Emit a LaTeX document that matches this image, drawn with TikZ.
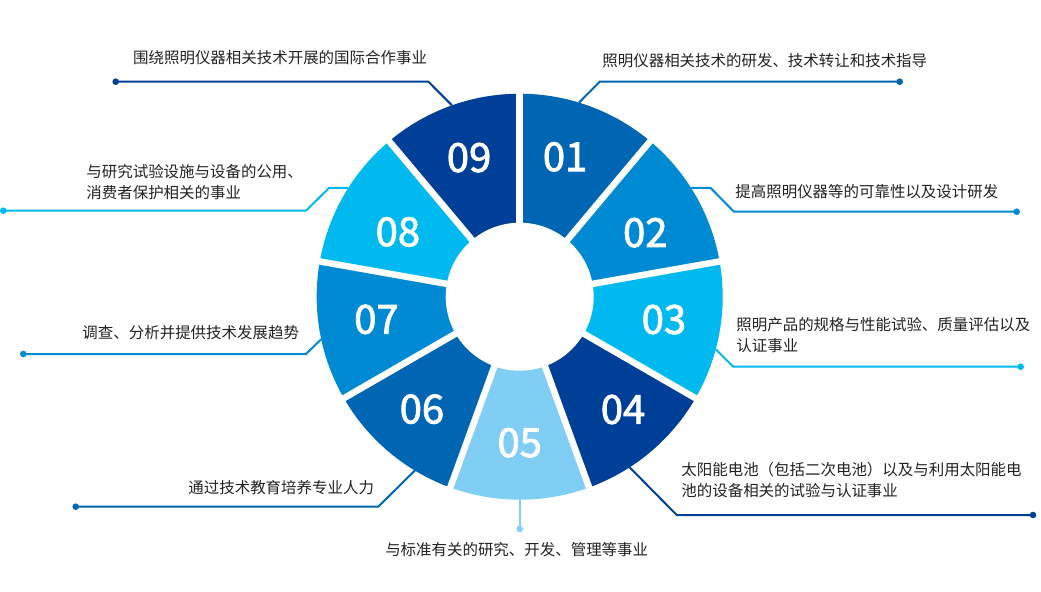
\documentclass[tikz,border=0pt]{standalone}
\usepackage{fontspec}
\setmainfont{Noto Sans CJK SC}
\newfontfamily\numfont[FakeBold=2]{Noto Sans CJK SC}
\definecolor{segA}{HTML}{0066B3}
\definecolor{segB}{HTML}{008AD4}
\definecolor{segC}{HTML}{00B9EE}
\definecolor{segD}{HTML}{003F97}
\definecolor{segE}{HTML}{80CEF3}
\definecolor{txtgray}{HTML}{222222}

\begin{document}
\begin{tikzpicture}[every node/.style={font=\fontsize{4.4}{6}\selectfont, text=txtgray, inner sep=0pt},
	num/.style={font=\numfont\fontsize{11.4}{12}\selectfont, text=white},
	lead/.style={line width=0.57pt},
	dot/.style={circle, minimum size=0.066cm}]
	\useasboundingbox (-5.197,-2.943) rectangle (5.213,2.967);
	\foreach \k/\col in {1/segA, 2/segB, 3/segC, 4/segD, 5/segE, 6/segA, 7/segB, 8/segC, 9/segD}
		\fill[\col] (0,0) -- ({90-40*\k}:2.03) arc[start angle={90-40*\k}, end angle={130-40*\k}, radius=2.03] -- cycle;
	\foreach \a in {10,50,...,330}
		\draw[white, line width=1.85pt] (0,0) -- (\a:2.1);
	\fill[white] (0,0) circle (0.74);
	\foreach \k/\a/\r in {1/72/1.47, 2/27/1.41, 3/-9/1.46, 4/-47.5/1.53, 5/-90/1.46, 6/229/1.49, 7/189/1.45, 8/152/1.38, 9/110/1.48}
		\node[num] (n\k) at (\a:\r) {0\k};

	\coordinate (e1) at (73:2.03);
	\node[dot, fill=segA] (d1) at (3.80,2.15) {};
	\draw[lead, segA] (e1) -- (0.80,2.15) -- (d1.center);
	\node[anchor=west] (t1) at (0.82,2.36) {照明仪器相关技术的研发、技术转让和技术指导};

	\coordinate (e2) at (32.4:2.03);
	\node[dot, fill=segB] (d2) at (4.97,0.85) {};
	\draw[lead, segB] (e2) -- (1.91,1.087) -- (2.143,0.85) -- (d2.center);
	\node[anchor=west] (t2) at (2.15,1.05) {提高照明仪器等的可靠性以及设计研发};

	\coordinate (e3) at (-15:2.03);
	\node[dot, fill=segC] (d3) at (5.01,-0.70) {};
	\draw[lead, segC] (e3) -- (2.136,-0.70) -- (d3.center);
	\node[anchor=west, align=left] (t3) at (2.16,-0.38) {照明产品的规格与性能试验、质量评估以及\\认证事业};

	\coordinate (e4) at (-57.2:2.03);
	\node[dot, fill=segD] (d4) at (5.133,-2.183) {};
	\draw[lead, segD] (e4) -- (1.57,-2.183) -- (d4.center);
	\node[anchor=west, align=left] (t4) at (1.61,-1.83) {太阳能电池（包括二次电池）以及与利用太阳能电\\池的设备相关的试验与认证事业};

	\coordinate (e5) at (-90:2.03);
	\node[dot, fill=segE] (d5) at (0,-2.323) {};
	\draw[lead, segE] (e5) -- (d5.center);
	\node (t5) at (-0.03,-2.53) {与标准有关的研究、开发、管理等事业};

	\coordinate (e6) at (238.9:2.03);
	\node[dot, fill=segA] (d6) at (-4.44,-2.10) {};
	\draw[lead, segA] (e6) -- (-1.414,-2.10) -- (d6.center);
	\node[anchor=east] (t6) at (-1.45,-1.91) {通过技术教育培养专业人力};

	\coordinate (e7) at (192.1:2.03);
	\node[dot, fill=segB] (d7) at (-4.964,-0.573) {};
	\draw[lead, segB] (e7) -- (-2.137,-0.573) -- (d7.center);
	\node[anchor=east] (t7) at (-2.20,-0.36) {调查、分析并提供技术发展趋势};

	\coordinate (e8) at (147.6:2.03);
	\node[dot, fill=segC] (d8) at (-5.164,0.86) {};
	\draw[lead, segC] (e8) -- (-1.907,1.087) -- (-2.137,0.86) -- (d8.center);
	\node[anchor=west, align=left] (t8) at (-4.34,1.15) {与研究试验设施与设备的公用、\\消费者保护相关的事业};

	\coordinate (e9) at (109.5:2.03);
	\node[dot, fill=segD] (d9) at (-4.04,2.15) {};
	\draw[lead, segD] (e9) -- (-0.913,2.15) -- (d9.center);
	\node[anchor=east] (t9) at (-0.92,2.39) {围绕照明仪器相关技术开展的国际合作事业};
\end{tikzpicture}
\end{document}
